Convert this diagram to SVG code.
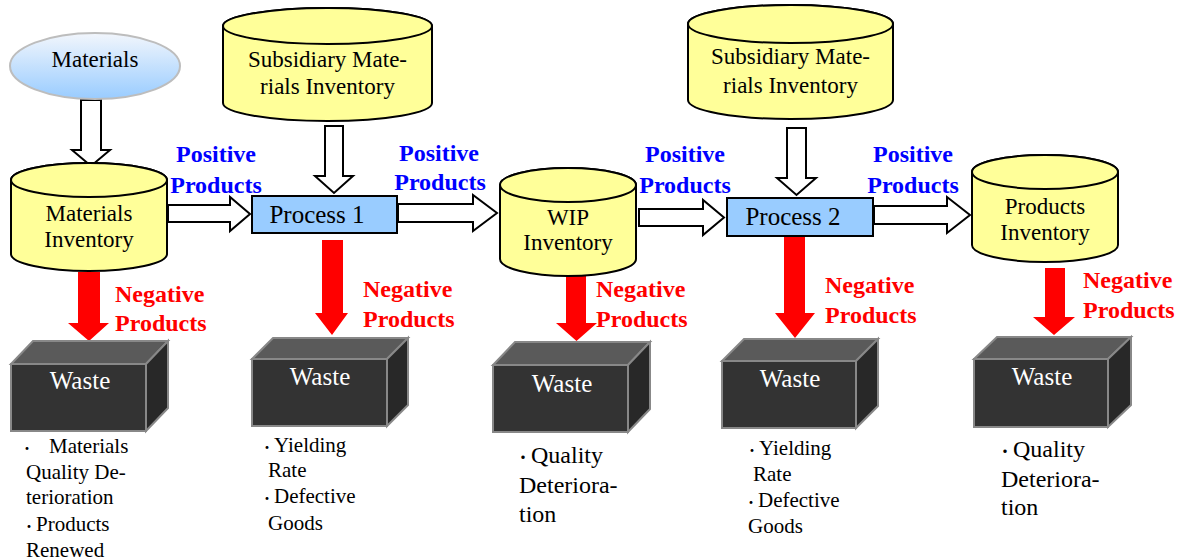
<svg xmlns="http://www.w3.org/2000/svg" width="1183" height="560" viewBox="0 0 1183 560">
<defs>
<linearGradient id="gBlue" x1="0" y1="0" x2="0" y2="1">
<stop offset="0" stop-color="#f2f6fc"/>
<stop offset="1" stop-color="#99ccff"/>
</linearGradient>
</defs>
<style>
.cyl{fill:#ffff99;stroke:#000;stroke-width:2}
.proc{fill:#99ccff;stroke:#000;stroke-width:2}
.hol{fill:#fff;stroke:#000;stroke-width:2;stroke-linejoin:miter}
.red{fill:#ff0000;stroke:none}
text{font-family:'Liberation Serif',Tinos,'Noto Serif','DejaVu Serif',FreeSerif,'Nimbus Roman','Times New Roman',Times,serif}
.t{fill:#000}
.c{text-anchor:middle}
.pos{font-weight:bold;font-size:24px;fill:#0000ff;text-anchor:middle}
.neg{font-weight:bold;font-size:24px;fill:#ff0000}
.wf{fill:#333333;stroke:#888;stroke-width:2}
.wt{fill:#5a5a5a;stroke:#888;stroke-width:2}
.wr{fill:#282828;stroke:#888;stroke-width:2}
.wtx{font-size:25px;fill:#fff;text-anchor:middle}
.b{fill:#000}
.d{font-family:'Noto Sans CJK JP',sans-serif}
</style>

<g id="connectors">
<polygon class="hol" points="81,100 101,100 101,150 110,150 91,166 72,150 81,150"/>
<polygon class="hol" points="325,126 343,126 343,176 353,176 334,193 315,176 325,176"/>
<polygon class="hol" points="787,128 806,128 806,178 816,178 796.5,195 777,178 787,178"/>
<polygon class="hol" points="168,205 230,205 230,197 250,214 230,231 230,222 168,222"/>
<polygon class="hol" points="398,204 473,204 473,195 497,213 473,231 473,222 398,222"/>
<polygon class="hol" points="639,209 703,209 703,200 724,217.5 703,235 703,226 639,226"/>
<polygon class="hol" points="874,206 947,206 947,197 970,215 947,233 947,224 874,224"/>
<polygon class="red" points="78,272 100,272 100,323 109,323 89,341 68,323 78,323"/>
<polygon class="red" points="322,240 343,240 343,313 348,313 332,335 315,313 322,313"/>
<polygon class="red" points="566,276 586,276 586,323 597,323 576.5,341 556,323 566,323"/>
<polygon class="red" points="784,236 805,236 805,313 815,313 795,338 775,313 784,313"/>
<polygon class="red" points="1045,268 1065,268 1065,317 1075,317 1054,335 1033,317 1045,317"/>
</g>

<g id="materials">
<ellipse cx="95" cy="66" rx="85" ry="33" fill="url(#gBlue)" stroke="#bdbdbd" stroke-width="2"/>
<text class="t c" x="95" y="67" font-size="23">Materials</text>
</g>

<g id="materials-inventory">
<path class="cyl" d="M11,180 L11,254 A78,17 0 0 0 167,254 L167,180 A78,17 0 0 0 11,180 Z"/>
<ellipse class="cyl" cx="89" cy="180" rx="78" ry="17"/>
<text class="t c" x="89" y="221" font-size="23">Materials</text>
<text class="t c" x="89" y="247" font-size="23">Inventory</text>
</g>

<g id="subsidiary-1">
<path class="cyl" d="M223,26 L223,103 A104.5,18 0 0 0 432,103 L432,26 A104.5,18 0 0 0 223,26 Z"/>
<ellipse class="cyl" cx="327.5" cy="26" rx="104.5" ry="18"/>
<text class="t c" x="327.5" y="67" font-size="23">Subsidiary Mate-</text>
<text class="t c" x="327.5" y="94" font-size="23">rials Inventory</text>
</g>

<g id="process-1">
<rect class="proc" x="252" y="196" width="145" height="37"/>
<text class="t c" x="317" y="223" font-size="25">Process 1</text>
</g>

<g id="wip-inventory">
<path class="cyl" d="M500,185 L500,259 A68,17 0 0 0 636,259 L636,185 A68,17 0 0 0 500,185 Z"/>
<ellipse class="cyl" cx="568" cy="185" rx="68" ry="17"/>
<text class="t c" x="568" y="225" font-size="23">WIP</text>
<text class="t c" x="568" y="250" font-size="23">Inventory</text>
</g>

<g id="subsidiary-2">
<path class="cyl" d="M688,24 L688,100 A102.5,19 0 0 0 893,100 L893,24 A102.5,19 0 0 0 688,24 Z"/>
<ellipse class="cyl" cx="790.5" cy="24" rx="102.5" ry="19"/>
<text class="t c" x="790.5" y="64" font-size="23">Subsidiary Mate-</text>
<text class="t c" x="790.5" y="93" font-size="23">rials Inventory</text>
</g>

<g id="process-2">
<rect class="proc" x="727" y="198" width="146" height="38"/>
<text class="t c" x="793" y="225" font-size="25">Process 2</text>
</g>

<g id="products-inventory">
<path class="cyl" d="M972,172 L972,245 A73,17 0 0 0 1118,245 L1118,172 A73,17 0 0 0 972,172 Z"/>
<ellipse class="cyl" cx="1045" cy="172" rx="73" ry="17"/>
<text class="t c" x="1045" y="214" font-size="23">Products</text>
<text class="t c" x="1045" y="240" font-size="23">Inventory</text>
</g>

<g id="labels-positive">
<text class="pos" x="216" y="162">Positive</text>
<text class="pos" x="216" y="193">Products</text>
<text class="pos" x="439" y="161">Positive</text>
<text class="pos" x="440" y="190">Products</text>
<text class="pos" x="685" y="162">Positive</text>
<text class="pos" x="685" y="193">Products</text>
<text class="pos" x="913" y="162">Positive</text>
<text class="pos" x="913" y="193">Products</text>
</g>

<g id="labels-negative">
<text class="neg" x="115" y="302">Negative</text>
<text class="neg" x="115" y="331">Products</text>
<text class="neg" x="363" y="297">Negative</text>
<text class="neg" x="363" y="327">Products</text>
<text class="neg" x="596" y="297">Negative</text>
<text class="neg" x="596" y="327">Products</text>
<text class="neg" x="825" y="293">Negative</text>
<text class="neg" x="825" y="323">Products</text>
<text class="neg" x="1083" y="288">Negative</text>
<text class="neg" x="1083" y="318">Products</text>
</g>

<g id="waste-1">
<polygon class="wt" points="11,364 146,364 168,341 33,341"/>
<polygon class="wr" points="146,364 168,341 168,408 146,431"/>
<rect class="wf" x="11" y="364" width="135" height="67"/>
<text class="wtx" x="80" y="389">Waste</text>
</g>
<g id="waste-2">
<polygon class="wt" points="252,359 387,359 408,338 273,338"/>
<polygon class="wr" points="387,359 408,338 408,405 387,426"/>
<rect class="wf" x="252" y="359" width="135" height="67"/>
<text class="wtx" x="320" y="385">Waste</text>
</g>
<g id="waste-3">
<polygon class="wt" points="493,365 628,365 650,342 515,342"/>
<polygon class="wr" points="628,365 650,342 650,409 628,432"/>
<rect class="wf" x="493" y="365" width="135" height="67"/>
<text class="wtx" x="562" y="392">Waste</text>
</g>
<g id="waste-4">
<polygon class="wt" points="722,361 856,361 878,339 744,339"/>
<polygon class="wr" points="856,361 878,339 878,406 856,428"/>
<rect class="wf" x="722" y="361" width="134" height="67"/>
<text class="wtx" x="790" y="387">Waste</text>
</g>
<g id="waste-5">
<polygon class="wt" points="974,359 1108,359 1131,337 997,337"/>
<polygon class="wr" points="1108,359 1131,337 1131,405 1108,427"/>
<rect class="wf" x="974" y="359" width="134" height="68"/>
<text class="wtx" x="1042" y="385">Waste</text>
</g>

<g id="notes-1" class="b" font-size="21">
<text x="20" y="453"><tspan class="d" font-size="14">・</tspan><tspan x="49">Materials</tspan></text>
<text x="26" y="479">Quality De-</text>
<text x="26" y="504">terioration</text>
<text x="22" y="531"><tspan class="d" font-size="14">・</tspan>Products</text>
<text x="26" y="557">Renewed</text>
</g>
<g id="notes-2" class="b" font-size="21">
<text x="260" y="452"><tspan class="d" font-size="14">・</tspan>Yielding</text>
<text x="268" y="477">Rate</text>
<text x="260" y="503"><tspan class="d" font-size="14">・</tspan>Defective</text>
<text x="268" y="530">Goods</text>
</g>
<g id="notes-3" class="b" font-size="24">
<text x="515" y="463"><tspan class="d" font-size="16">・</tspan>Quality</text>
<text x="519" y="493">Deteriora-</text>
<text x="519" y="522">tion</text>
</g>
<g id="notes-4" class="b" font-size="21">
<text x="745" y="455"><tspan class="d" font-size="14">・</tspan>Yielding</text>
<text x="753" y="481">Rate</text>
<text x="744" y="507"><tspan class="d" font-size="14">・</tspan>Defective</text>
<text x="748" y="533">Goods</text>
</g>
<g id="notes-5" class="b" font-size="24">
<text x="997" y="457"><tspan class="d" font-size="16">・</tspan>Quality</text>
<text x="1001" y="487">Deteriora-</text>
<text x="1001" y="515">tion</text>
</g>
</svg>
